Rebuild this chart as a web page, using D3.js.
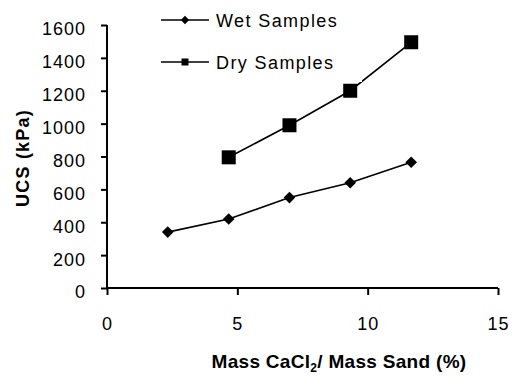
<!DOCTYPE html>
<html>
<head>
<meta charset="utf-8">
<script src="https://cdn.jsdelivr.net/npm/d3@7"></script>
<style>
html,body{margin:0;padding:0;background:#fff;}
svg{display:block;font-family:"Liberation Sans",Arial,sans-serif;}
</style>
</head>
<body>
<svg id="chart" width="513" height="376"></svg>
<script>
const xValues = [2.33, 4.67, 7.0, 9.33, 11.67];
const wetValues = [340, 420, 550, 640, 765];
const dryXValues = [4.67, 7.0, 9.33, 11.67];
const dryValues = [795, 990, 1200, 1495];
const xTicks = [0, 5, 10, 15];
const yTicks = [0, 200, 400, 600, 800, 1000, 1200, 1400, 1600];
const seriesNames = ["Wet Samples", "Dry Samples"];

const svg = d3.select("#chart");
const x = d3.scaleLinear().domain([0, 15]).range([107, 498]);
const y = d3.scaleLinear().domain([0, 1600]).range([288, 25]);

// axes
const gx = svg.append("g").attr("transform", `translate(0,${y(0)})`)
  .call(d3.axisBottom(x).tickValues(xTicks).tickFormat(d3.format("d")).tickSize(7).tickPadding(22).tickSizeOuter(0));
const gy = svg.append("g").attr("transform", `translate(${x(0)},0)`)
  .call(d3.axisLeft(y).tickValues(yTicks).tickFormat(d3.format("d")).tickSize(6).tickPadding(15).tickSizeOuter(0));
[gx, gy].forEach(g => {
  g.select(".domain").attr("stroke", "#000").attr("stroke-width", 2);
  g.selectAll(".tick line").attr("stroke", "#000").attr("stroke-width", 2);
  g.selectAll(".tick text").attr("fill", "#000").attr("font-size", 18)
    .attr("letter-spacing", 1).attr("font-family", "Liberation Sans, Arial, sans-serif");
});
gy.selectAll(".tick text").attr("dy", "0.55em");
gy.select(".domain").attr("d", `M0,${y(1600)}V${y(0)}`);
gx.select(".domain").attr("d", `M0,0H${x(15)-x(0)}`).attr("transform", `translate(${x(0)},0)`);

const line = d3.line().x(d => x(d[0])).y(d => y(d[1]));
const wetData = xValues.map((v, i) => [v, wetValues[i]]);
const dryData = dryXValues.map((v, i) => [v, dryValues[i]]);

svg.append("path").attr("d", line(wetData)).attr("fill", "none").attr("stroke", "#000").attr("stroke-width", 1.6);
svg.append("path").attr("d", line(dryData)).attr("fill", "none").attr("stroke", "#000").attr("stroke-width", 1.6);

const diamond = s => `M0,${-s}L${s},0L0,${s}L${-s},0Z`;
svg.selectAll(".wet").data(wetData).enter().append("path")
  .attr("d", diamond(5.8)).attr("transform", d => `translate(${x(d[0])},${y(d[1])})`).attr("fill", "#000");
svg.selectAll(".dry").data(dryData).enter().append("rect")
  .attr("x", d => x(d[0]) - 7).attr("y", d => y(d[1]) - 7).attr("width", 14).attr("height", 14).attr("fill", "#000");

// legend (white background box)
svg.append("rect").attr("x", 150).attr("y", 0).attr("width", 212).attr("height", 82).attr("fill", "#fff");
const leg = svg.append("g");
const legY = [20, 62];
seriesNames.forEach((name, i) => {
  leg.append("line").attr("x1", 161).attr("x2", 209).attr("y1", legY[i]).attr("y2", legY[i])
    .attr("stroke", "#000").attr("stroke-width", 1.6);
  if (i === 0) {
    leg.append("path").attr("d", diamond(4.2)).attr("transform", `translate(185,${legY[i]})`).attr("fill", "#000");
  } else {
    leg.append("rect").attr("x", 181.5).attr("y", legY[i] - 3.5).attr("width", 7).attr("height", 7).attr("fill", "#000");
  }
  leg.append("text").attr("x", 216).attr("y", legY[i] + 7).attr("font-size", 18).attr("letter-spacing", 1.4)
    .attr("fill", "#000").text(name);
});

// axis titles
svg.append("text").attr("transform", "translate(29,158) rotate(-90)").attr("text-anchor", "middle")
  .attr("font-size", 18).attr("font-weight", "bold").attr("letter-spacing", 1.2).attr("fill", "#000")
  .text("UCS (kPa)");
const xt = svg.append("text").attr("x", 339).attr("y", 368).attr("text-anchor", "middle")
  .attr("font-size", 19).attr("font-weight", "bold").attr("letter-spacing", 0.3).attr("fill", "#000");
xt.append("tspan").text("Mass CaCl");
xt.append("tspan").attr("font-size", 12).attr("dy", 4).text("2");
xt.append("tspan").attr("dy", -4).text("/ Mass Sand (%)");
</script>
</body>
</html>
